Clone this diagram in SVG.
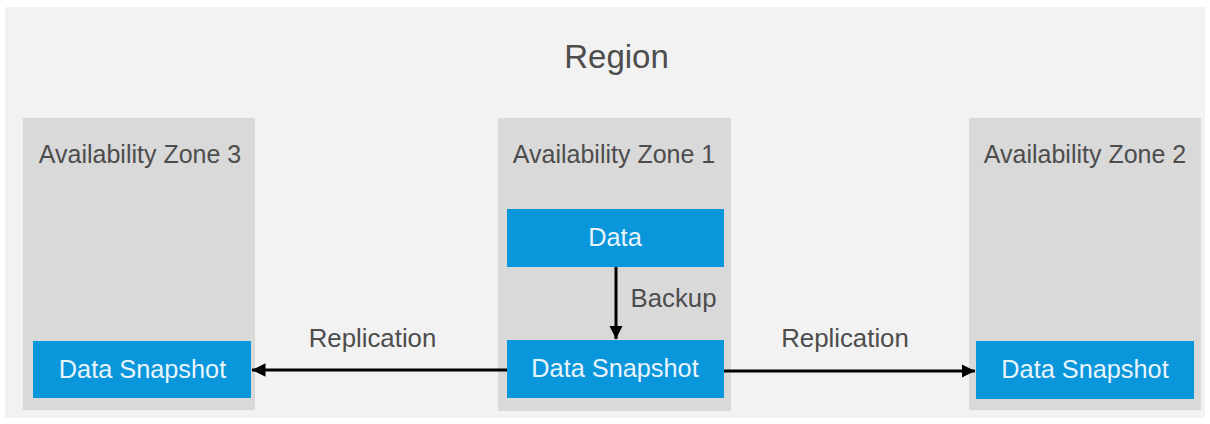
<svg xmlns="http://www.w3.org/2000/svg" width="1210" height="424" viewBox="0 0 1210 424">
<style>
.t{font-family:"Liberation Sans",Arial,sans-serif;fill:#4d4d4d;text-anchor:middle}
.zl{font-size:25px}
.zone{fill:#d9d9d9}
.box{fill:#0a96da}
.bt{font-family:"Liberation Sans",Arial,sans-serif;fill:#e8f4fc;font-size:25.3px;text-anchor:middle}
.lbl{font-size:25.8px}
.c{stroke:#000;stroke-width:3;fill:none}
</style>
<defs>
<marker id="ah" viewBox="0 0 10 10" refX="10" refY="5" markerWidth="4.5" markerHeight="4.5" orient="auto" markerUnits="strokeWidth">
<path d="M0,0 L10,5 L0,10 z" fill="#000"/>
</marker>
</defs>
<rect width="1210" height="424" fill="#ffffff"/>
<g id="region">
<rect x="5" y="7" width="1200" height="411" fill="#f2f2f2"/>
<text class="t" x="616.5" y="68" font-size="33">Region</text>
</g>
<g id="zone3">
<rect class="zone" x="23" y="118" width="232" height="292"/>
<text class="t zl" x="140" y="163">Availability Zone 3</text>
</g>
<g id="zone1">
<rect class="zone" x="498" y="118" width="233" height="293"/>
<text class="t zl" x="614" y="163">Availability Zone 1</text>
</g>
<g id="zone2">
<rect class="zone" x="969" y="118" width="232" height="292"/>
<text class="t zl" x="1085" y="163">Availability Zone 2</text>
</g>
<g id="data">
<rect class="box" x="507" y="209" width="217" height="58"/>
<text class="bt" x="615" y="246">Data</text>
</g>
<g id="snap1">
<rect class="box" x="507" y="340" width="217" height="58"/>
<text class="bt" x="615" y="377">Data Snapshot</text>
</g>
<g id="snap3">
<rect class="box" x="33" y="341" width="218" height="57"/>
<text class="bt" x="142.5" y="378">Data Snapshot</text>
</g>
<g id="snap2">
<rect class="box" x="976" y="341" width="218" height="58"/>
<text class="bt" x="1085" y="378">Data Snapshot</text>
</g>
<g id="connectors">
<line class="c" x1="616" y1="267" x2="616" y2="339" marker-end="url(#ah)"/>
<line class="c" x1="507" y1="370" x2="252" y2="370" marker-end="url(#ah)"/>
<line class="c" x1="724" y1="371" x2="975" y2="371" marker-end="url(#ah)"/>
<text class="t lbl" x="673.5" y="307">Backup</text>
<text class="t lbl" x="372.5" y="347">Replication</text>
<text class="t lbl" x="845" y="347">Replication</text>
</g>
</svg>
